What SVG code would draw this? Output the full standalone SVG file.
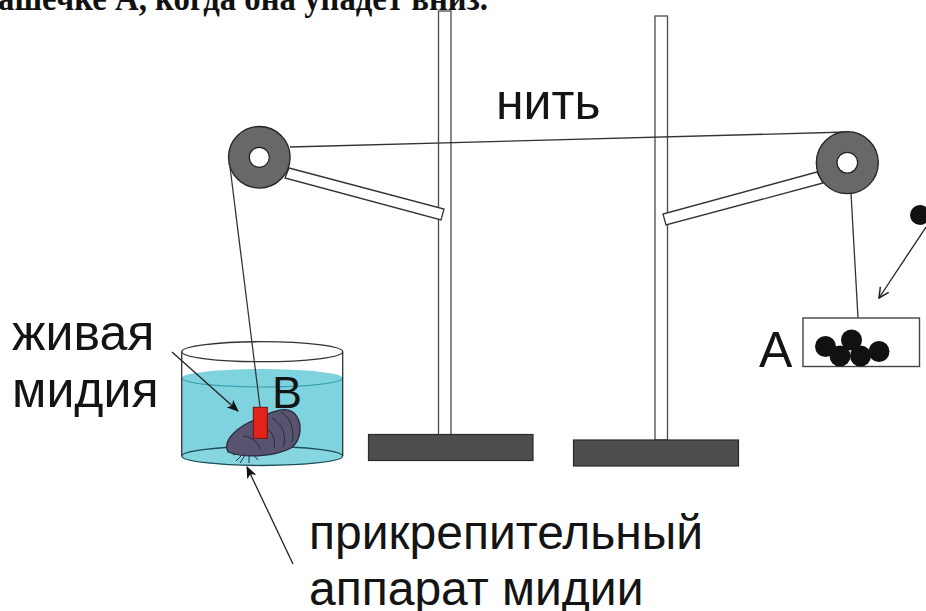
<svg xmlns="http://www.w3.org/2000/svg" width="926" height="611" viewBox="0 0 926 611">
  <defs>
    <style>
      .lbl { font-family: "Liberation Sans", Arial, sans-serif; fill: #141414; }
      .head { font-family: "Liberation Serif", "Times New Roman", serif; font-weight: bold; fill: #111; }
      .rod { fill: #fff; stroke: #4a4a4a; stroke-width: 1.3; }
      .base { fill: #4d4d4d; stroke: #2a2a2a; stroke-width: 1.2; }
      .arm { fill: #fff; stroke: #333; stroke-width: 1.3; }
      .pulley { fill: #686868; stroke: #222; stroke-width: 1.3; }
      .hole { fill: #fff; stroke: #222; stroke-width: 1.2; }
      .thread { stroke: #333; stroke-width: 1.3; fill: none; }
      .ptr { stroke: #222; stroke-width: 1.3; fill: none; }
      .ball { fill: #111; }
    </style>
    <marker id="solidHead" viewBox="0 0 12 10" refX="11" refY="5" markerWidth="12" markerHeight="10" markerUnits="userSpaceOnUse" orient="auto">
      <path d="M0,0 L12,5 L0,10 L3,5 Z" fill="#111"/>
    </marker>
    <marker id="openHead" viewBox="0 0 12 12" refX="11" refY="6" markerWidth="12" markerHeight="12" markerUnits="userSpaceOnUse" orient="auto">
      <path d="M1,1 L11,6 L1,11" fill="none" stroke="#222" stroke-width="1.5"/>
    </marker>
  </defs>

  <rect width="926" height="611" fill="#fff"/>

  <!-- heading line, running off the top edge -->
  <text class="head" x="-2" y="10" font-size="36" textLength="490" lengthAdjust="spacingAndGlyphs">ашечке А, когда она упадет вниз.</text>

  <!-- left stand -->
  <g id="stand-left">
    <rect class="rod" x="438.5" y="11" width="12.5" height="424"/>
    <rect class="base" x="368.5" y="434.5" width="164.5" height="26"/>
  </g>

  <!-- right stand -->
  <g id="stand-right">
    <rect class="rod" x="655" y="16" width="12.5" height="424"/>
    <rect class="base" x="573.5" y="440" width="165" height="26"/>
  </g>

  <!-- beaker with water -->
  <g id="beaker">
    <path d="M181.7,378 A80.5,9 0 0 1 342.7,378 L342.7,456 A80.5,9.5 0 0 1 181.7,456 Z" fill="#7fd3df"/>
    <ellipse cx="262.2" cy="456" rx="80.5" ry="9.5" fill="#86d6e2" stroke="#1d4f57" stroke-width="1.3"/>
    <path d="M181.7,378 A80.5,9 0 0 0 342.7,378" fill="none" stroke="#3a9fb0" stroke-width="1.1"/>
    <ellipse cx="262.2" cy="351.7" rx="80.5" ry="10" fill="none" stroke="#333" stroke-width="1.3"/>
    <line x1="181.7" y1="351.7" x2="181.7" y2="456" stroke="#333" stroke-width="1.3"/>
    <line x1="342.7" y1="351.7" x2="342.7" y2="456" stroke="#333" stroke-width="1.3"/>
  </g>

  <!-- mussel with its byssus and the red tab B -->
  <g id="mussel">
    <g stroke="#2a2a3a" stroke-width="1" fill="none">
      <path d="M246,451 L236,461"/>
      <path d="M247,452 L240,463"/>
      <path d="M249,452 L249,463"/>
      <path d="M251,452 L258,460"/>
      <path d="M252,451 L262,455"/>
      <path d="M245,450 L233,455"/>
    </g>
    <path d="M228,452 C222,440 238,426 257,419 C270,413 284,405 294,413 C303,422 302,440 291,448 C276,456 246,459 228,452 Z" fill="#58546f" stroke="#2b2838" stroke-width="1.3"/>
    <g stroke="#2b2838" stroke-width="1" fill="none">
      <path d="M272,418 C283,424 287,436 283,447"/>
      <path d="M262,426 C272,430 276,438 274,448"/>
      <path d="M243,436 C252,437 258,442 260,449"/>
      <path d="M281,412 C291,418 295,430 292,442"/>
    </g>
    <rect x="253.3" y="407.3" width="14" height="31" fill="#e2231a" stroke="#7a0e0a" stroke-width="1"/>
    <text class="lbl" x="272" y="407.5" font-size="45">B</text>
  </g>

  <!-- threads and pointer arrows -->
  <g id="connectors">
    <line class="thread" x1="290" y1="147" x2="847" y2="132"/>
    <line class="thread" x1="230" y1="167" x2="260" y2="407"/>
    <line class="thread" x1="851" y1="193" x2="858" y2="318"/>
    <line class="ptr" x1="172" y1="352" x2="238" y2="411" marker-end="url(#solidHead)"/>
    <line class="ptr" x1="293" y1="564" x2="247" y2="467" marker-end="url(#solidHead)"/>
    <line class="ptr" x1="926" y1="227" x2="879" y2="298" marker-end="url(#openHead)"/>
  </g>

  <!-- left pulley on its arm -->
  <g id="pulley-left">
    <polygon class="arm" points="289,168 444,209 441,220 285,178"/>
    <circle class="pulley" cx="259.3" cy="157.3" r="30.8"/>
    <circle class="hole" cx="259.3" cy="157.3" r="10"/>
  </g>

  <!-- right pulley on its arm -->
  <g id="pulley-right">
    <polygon class="arm" points="817,172 663,214 666,225 823,183"/>
    <circle class="pulley" cx="847.3" cy="162.7" r="31"/>
    <circle class="hole" cx="847.3" cy="162.7" r="10.3"/>
  </g>

  <!-- cup A with weights -->
  <g id="cup-a">
    <rect x="803" y="318" width="116.5" height="48.5" fill="#fff" stroke="#444" stroke-width="1.4"/>
    <circle class="ball" cx="825.5" cy="346.5" r="10.5"/>
    <circle class="ball" cx="840" cy="356" r="10.5"/>
    <circle class="ball" cx="851.5" cy="340" r="10.5"/>
    <circle class="ball" cx="860.5" cy="356" r="10.5"/>
    <circle class="ball" cx="879" cy="351.5" r="10.5"/>
    <text class="lbl" x="759" y="366.5" font-size="50">A</text>
  </g>

  <!-- falling weight -->
  <g id="falling-ball">
    <circle class="ball" cx="920" cy="215" r="10"/>
  </g>

  <!-- labels -->
  <g id="label-thread">
    <text class="lbl" x="496" y="118.5" font-size="50">нить</text>
  </g>
  <g id="label-mussel">
    <text class="lbl" x="12" y="350" font-size="50">живая</text>
    <text class="lbl" x="12" y="406.5" font-size="50">мидия</text>
  </g>
  <g id="label-byssus">
    <text class="lbl" x="309" y="548.5" font-size="48">прикрепительный</text>
    <text class="lbl" x="309" y="605" font-size="48">аппарат мидии</text>
  </g>
</svg>
